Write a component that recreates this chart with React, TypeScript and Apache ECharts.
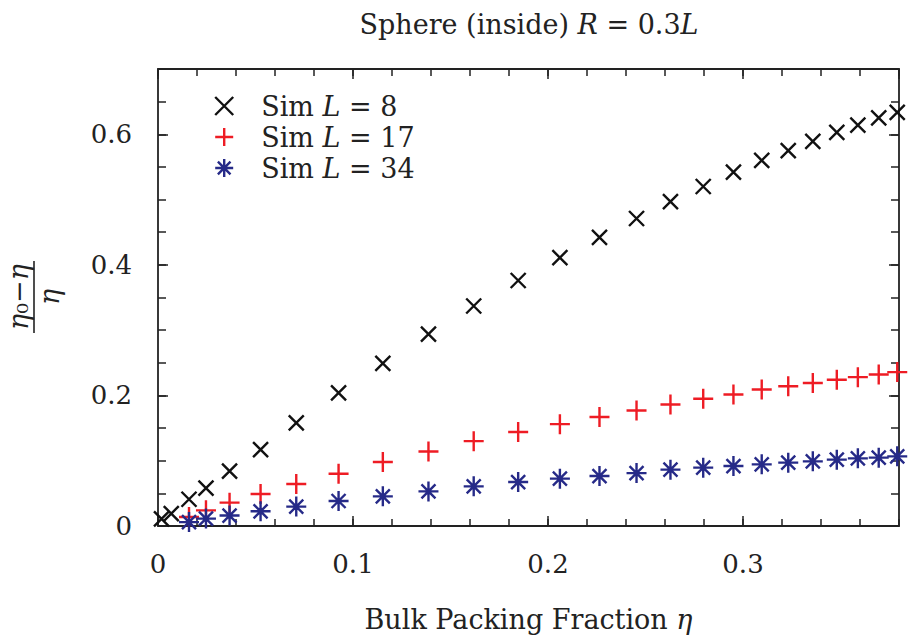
import React, { useEffect, useRef } from "react";
import * as echarts from "echarts";

// Bulk packing fraction values (x)
const ETA = [
  0.0018, 0.0068, 0.0159, 0.0246, 0.0367, 0.0526, 0.0709, 0.0926, 0.1153, 0.1387,
  0.1619, 0.1847, 0.2061, 0.2264, 0.2454, 0.2628, 0.2796, 0.2951, 0.3096, 0.3232,
  0.3358, 0.3481, 0.3589, 0.3696, 0.3791,
];
// L = 17 and L = 34 runs start at the third packing fraction
const ETA_LARGE = ETA.slice(2);

const SIM_L8 = [
  0.011, 0.019, 0.041, 0.058, 0.084, 0.117, 0.158, 0.204, 0.249, 0.294,
  0.337, 0.376, 0.411, 0.442, 0.471, 0.497, 0.520, 0.542, 0.560, 0.575,
  0.589, 0.603, 0.614, 0.625, 0.6335,
];
const SIM_L17 = [
  0.0138, 0.024, 0.0358, 0.049, 0.0643, 0.080, 0.098, 0.114, 0.130, 0.144,
  0.156, 0.167, 0.177, 0.186, 0.195, 0.2015, 0.209, 0.214, 0.219, 0.224,
  0.228, 0.232, 0.2357,
];
const SIM_L34 = [
  0.006, 0.0113, 0.016, 0.0225, 0.0297, 0.0383, 0.0454, 0.053, 0.0607, 0.0673,
  0.0725, 0.0765, 0.081, 0.0863, 0.0894, 0.0918, 0.0944, 0.097, 0.099, 0.1016,
  0.1036, 0.1047, 0.1067,
];

const SERIES_NAMES = ["Sim L = 8", "Sim L = 17", "Sim L = 34"];
const LEGEND_LABELS = ["8", "17", "34"];

const FONT = "'DejaVu Serif', 'Liberation Serif', serif";
const INK = "#222222";
const COLORS = ["#111111", "#ee1c24", "#262a88"];

const SYM_CROSS = "path://M0,0L10,10M10,0L0,10";
const SYM_PLUS = "path://M0,10L20,10M10,0L10,20";
const SYM_STAR = "path://M0,10L20,10M10,0L10,20M3,3L17,17M17,3L3,17";
const SYMBOLS = [SYM_CROSS, SYM_PLUS, SYM_STAR];
const SIZES = [15, 20, 20];
const STROKE = 2.4;

export default function App() {
  const ref = useRef<HTMLDivElement>(null);

  useEffect(() => {
    if (!ref.current) return;
    const chart = echarts.init(ref.current, null, { renderer: "svg" });

    const xs = [ETA, ETA_LARGE, ETA_LARGE];
    const ys = [SIM_L8, SIM_L17, SIM_L34];

    const series = SERIES_NAMES.map((name, i) => ({
      name,
      type: "scatter",
      xAxisIndex: 0,
      yAxisIndex: 0,
      symbol: SYMBOLS[i],
      symbolSize: SIZES[i],
      clip: false,
      itemStyle: { color: "transparent", borderColor: COLORS[i], borderWidth: STROKE, opacity: 1 },
      emphasis: { disabled: true },
      data: ys[i].map((v, j) => [xs[i][j], v]),
    }));

    const lineStyle = { color: INK, width: 1.8 };
    const tickStyle = { color: INK, width: 1.5 };
    const labelStyle = { fontFamily: FONT, fontSize: 26, color: INK };

    const xBase = { type: "value", min: 0, max: 0.38, splitLine: { show: false } };
    const yBase = { type: "value", min: 0, max: 0.7, splitLine: { show: false } };

    chart.setOption({
      animation: false,
      title: {
        text: "Sphere (inside) {i|R} = 0.3{i|L}",
        left: 529,
        textAlign: "center",
        top: 11,
        padding: 0,
        textStyle: {
          fontFamily: FONT,
          fontSize: 27,
          fontWeight: "normal",
          color: INK,
          rich: {
            i: { fontFamily: FONT, fontSize: 27, fontStyle: "italic", color: INK },
          },
        },
      },
      legend: {
        orient: "vertical",
        left: 209,
        top: 86,
        itemWidth: 18,
        itemHeight: 18,
        itemGap: 1,
        selectedMode: false,
        formatter: (name: string) => {
          const idx = SERIES_NAMES.indexOf(name);
          return "{g|}Sim {i|L} = " + LEGEND_LABELS[idx];
        },
        textStyle: {
          fontFamily: FONT,
          fontSize: 27,
          color: INK,
          lineHeight: 30,
          rich: {
            g: { width: 23 },
            i: { fontFamily: FONT, fontSize: 27, fontStyle: "italic", color: INK, lineHeight: 30 },
          },
        },
        data: SERIES_NAMES.map((name, i) => ({
          name,
          icon: SYMBOLS[i],
          itemStyle: { color: "transparent", borderColor: COLORS[i], borderWidth: STROKE },
        })),
      },
      grid: { left: 158, right: 10, top: 69, bottom: 115, containLabel: false },
      xAxis: [
        {
          ...xBase,
          position: "bottom",
          interval: 0.1,
          axisLine: { show: true, onZero: false, lineStyle },
          axisTick: { show: true, inside: true, length: 10, lineStyle: tickStyle },
          axisLabel: { ...labelStyle, margin: 25, showMaxLabel: false },
          name: "Bulk Packing Fraction {i|η}",
          nameLocation: "middle",
          nameGap: 80,
          nameTextStyle: {
            fontFamily: FONT,
            fontSize: 27,
            color: INK,
            rich: { i: { fontFamily: FONT, fontSize: 27, fontStyle: "italic", color: INK } },
          },
        },
        {
          ...xBase,
          position: "bottom",
          interval: 0.02,
          axisLine: { show: false, onZero: false },
          axisTick: { show: true, inside: true, length: 7, lineStyle: tickStyle },
          axisLabel: { show: false },
        },
        {
          ...xBase,
          position: "top",
          interval: 0.1,
          axisLine: { show: true, onZero: false, lineStyle },
          axisTick: { show: true, inside: true, length: 10, lineStyle: tickStyle },
          axisLabel: { show: false },
        },
        {
          ...xBase,
          position: "top",
          interval: 0.02,
          axisLine: { show: false, onZero: false },
          axisTick: { show: true, inside: true, length: 7, lineStyle: tickStyle },
          axisLabel: { show: false },
        },
      ],
      yAxis: [
        {
          ...yBase,
          position: "left",
          interval: 0.2,
          axisLine: { show: true, onZero: false, lineStyle },
          axisTick: { show: true, inside: true, length: 10, lineStyle: tickStyle },
          axisLabel: { ...labelStyle, margin: 26, showMaxLabel: false },
        },
        {
          ...yBase,
          position: "left",
          interval: 0.05,
          axisLine: { show: false, onZero: false },
          axisTick: { show: true, inside: true, length: 8, lineStyle: tickStyle },
          axisLabel: { show: false },
        },
        {
          ...yBase,
          position: "right",
          interval: 0.2,
          axisLine: { show: true, onZero: false, lineStyle },
          axisTick: { show: true, inside: true, length: 10, lineStyle: tickStyle },
          axisLabel: { show: false },
        },
        {
          ...yBase,
          position: "right",
          interval: 0.05,
          axisLine: { show: false, onZero: false },
          axisTick: { show: true, inside: true, length: 8, lineStyle: tickStyle },
          axisLabel: { show: false },
        },
      ],
      graphic: [
        {
          type: "group",
          x: 34,
          y: 297,
          rotation: Math.PI / 2,
          children: [
            {
              type: "line",
              shape: { x1: -36, y1: 0, x2: 36, y2: 0 },
              style: { stroke: INK, lineWidth: 1.6 },
            },
            {
              type: "text",
              x: 0,
              y: -2,
              style: {
                text: "{i|η}{n|₀}{i|−η}",
                fontFamily: FONT,
                fontSize: 27,
                fill: INK,
                textAlign: "center",
                textVerticalAlign: "bottom",
                rich: {
                  i: { fontFamily: FONT, fontSize: 27, fontStyle: "italic", fill: INK },
                  n: { fontFamily: FONT, fontSize: 27, fontStyle: "normal", fill: INK },
                },
              },
            },
            {
              type: "text",
              x: 0,
              y: 2,
              style: {
                text: "η",
                fontFamily: FONT,
                fontSize: 27,
                fontStyle: "italic",
                fill: INK,
                textAlign: "center",
                textVerticalAlign: "top",
              },
            },
          ],
        },
      ],
      series,
    });

    return () => chart.dispose();
  }, []);

  return (
    <div
      ref={ref}
      style={{ position: "fixed", left: 0, top: 0, width: 909, height: 641, background: "#fff" }}
    />
  );
}
